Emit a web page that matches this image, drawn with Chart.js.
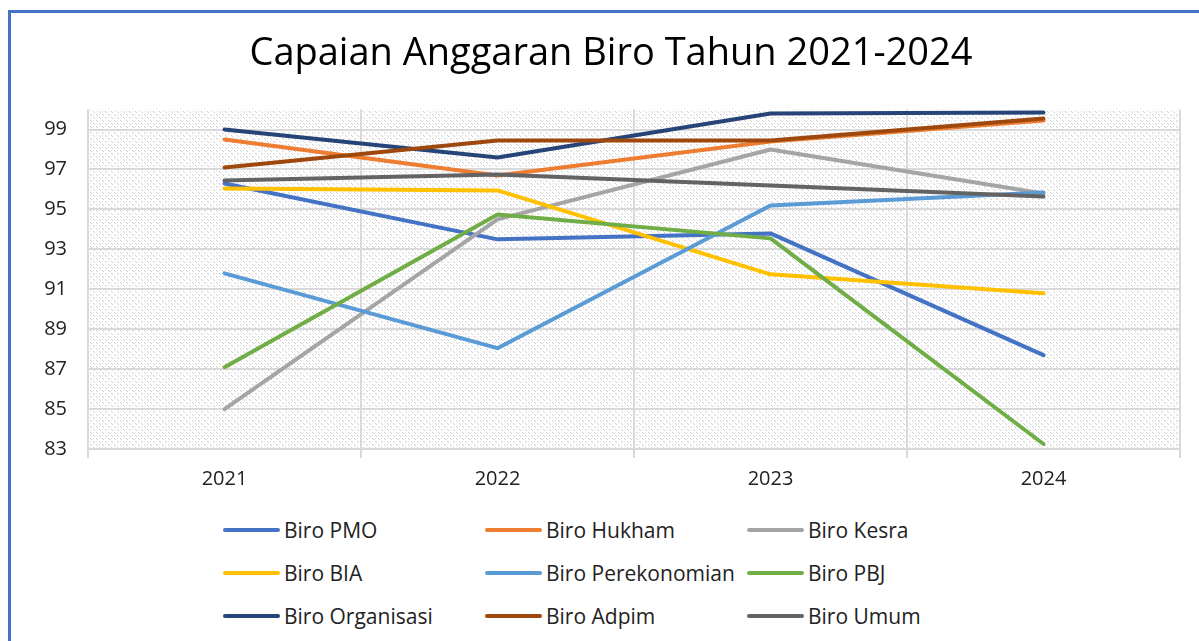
<!DOCTYPE html>
<html lang="id">
<head>
    <meta charset="UTF-8">
    <title>Capaian Anggaran Biro Tahun 2021-2024</title>
    <script src="https://cdn.jsdelivr.net/npm/chart.js"></script>
    <style>
        body { margin: 0; background: #fff; font-family: 'Open Sans', sans-serif; }
        .frame {
            position: absolute; left: 8px; top: 10px; right: 0; bottom: 0;
            border-left: 3px solid #4472C4; border-top: 3px solid #4472C4;
        }
        .chart-container {
            position: absolute; left: 0; top: 0; width: 1199px; height: 500px;
        }
        .legend {
            position: absolute; left: 223px; top: 516px;
            display: grid; grid-template-columns: 262px 262px 262px; row-gap: 15px;
        }
        .legend-item { display: flex; align-items: center; height: 28px; font-size: 21px; color: #222; white-space: nowrap; }
        .legend-line { width: 57px; height: 4px; border-radius: 2px; margin-right: 4px; flex: none; }
    </style>
</head>
<body>
    <div class="frame"></div>
    <div class="chart-container">
        <canvas id="capaianChart"></canvas>
    </div>
    <div class="legend" id="legend"></div>

    <script>
        // data
        const years = ['2021', '2022', '2023', '2024'];
        const yTicks = [83, 85, 87, 89, 91, 93, 95, 97, 99];

        const biroPMO = [96.3, 93.5, 93.8, 87.7];
        const biroHukham = [98.5, 96.7, 98.4, 99.45];
        const biroKesra = [85.0, 94.5, 98.0, 95.8];
        const biroBIA = [96.05, 95.95, 91.75, 90.8];
        const biroPerekonomian = [91.8, 88.05, 95.2, 95.85];
        const biroPBJ = [87.1, 94.75, 93.55, 83.25];
        const biroOrganisasi = [99.0, 97.6, 99.8, 99.85];
        const biroAdpim = [97.1, 98.45, 98.45, 99.55];
        const biroUmum = [96.45, 96.75, 96.2, 95.65];

        const series = [
            ['Biro PMO', biroPMO, '#4472C4'],
            ['Biro Hukham', biroHukham, '#ED7D31'],
            ['Biro Kesra', biroKesra, '#A5A5A5'],
            ['Biro BIA', biroBIA, '#FFC000'],
            ['Biro Perekonomian', biroPerekonomian, '#5B9BD5'],
            ['Biro PBJ', biroPBJ, '#70AD47'],
            ['Biro Organisasi', biroOrganisasi, '#264478'],
            ['Biro Adpim', biroAdpim, '#9E480E'],
            ['Biro Umum', biroUmum, '#636363']
        ];

        // pola arsir untuk area plot
        const pc = document.createElement('canvas');
        pc.width = 6; pc.height = 6;
        const px = pc.getContext('2d');
        px.fillStyle = '#ffffff';
        px.fillRect(0, 0, 6, 6);
        px.fillStyle = '#cccccc';
        for (let i = 0; i < 6; i++) {
            if (i % 3 !== 2) px.fillRect(i, i, 1, 1);
        }
        px.fillStyle = '#e6e6e6';
        px.fillRect(3, 0, 1, 1); px.fillRect(0, 3, 1, 1);

        const plotBackground = {
            id: 'plotBackground',
            beforeDraw(chart) {
                const { ctx, chartArea } = chart;
                ctx.save();
                ctx.fillStyle = ctx.createPattern(pc, 'repeat');
                ctx.fillRect(chartArea.left, chartArea.top, chartArea.right - chartArea.left, chartArea.bottom - chartArea.top);
                ctx.restore();
            }
        };

        const ctx = document.getElementById('capaianChart').getContext('2d');
        new Chart(ctx, {
            type: 'line',
            data: {
                labels: years,
                datasets: series.map((s, i) => ({
                    label: s[0],
                    data: s[1],
                    borderColor: s[2],
                    backgroundColor: s[2],
                    borderWidth: 4,
                    pointRadius: 0,
                    tension: 0,
                    borderCapStyle: 'round',
                    borderJoinStyle: 'round',
                    order: series.length - i
                }))
            },
            options: {
                responsive: true,
                maintainAspectRatio: false,
                animation: false,
                layout: { padding: { left: 42, right: 19, top: 0, bottom: 0 } },
                scales: {
                    x: {
                        type: 'category',
                        offset: true,
                        grid: { offset: true, color: '#d9d9d9', lineWidth: 2, drawTicks: true, tickLength: 9 },
                        border: { color: '#d9d9d9', width: 2 },
                        ticks: { color: '#222', padding: 9, font: { family: 'Open Sans', size: 20 } },
                        afterFit(scale) { scale.height = 51; }
                    },
                    y: {
                        min: 83,
                        max: 100,
                        grid: { color: '#d9d9d9', lineWidth: 2, drawTicks: false },
                        border: { color: '#d9d9d9', width: 2 },
                        ticks: { color: '#222', padding: 21, font: { family: 'Open Sans', size: 20 } },
                        afterBuildTicks(scale) { scale.ticks = yTicks.map(v => ({ value: v })); },
                        afterFit(scale) { scale.width = 46; }
                    }
                },
                plugins: {
                    legend: { display: false },
                    tooltip: { enabled: false },
                    title: {
                        display: true,
                        text: 'Capaian Anggaran Biro Tahun 2021-2024',
                        color: '#000',
                        font: { family: 'Open Sans', size: 38, weight: 'normal' },
                        padding: { top: 31, bottom: 33 }
                    }
                }
            },
            plugins: [plotBackground]
        });

        // legenda 3 kolom
        const legend = document.getElementById('legend');
        series.forEach(s => {
            const item = document.createElement('div');
            item.className = 'legend-item';
            item.innerHTML = '<span class="legend-line" style="background:' + s[2] + '"></span>' + s[0];
            legend.appendChild(item);
        });
    </script>
</body>
</html>
